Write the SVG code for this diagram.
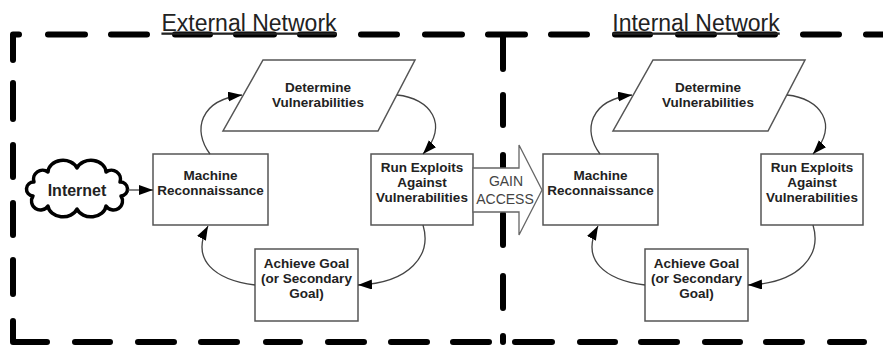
<svg xmlns="http://www.w3.org/2000/svg" width="883" height="345" viewBox="0 0 883 345">
  <style>
    .border { fill: none; stroke: #000; stroke-width: 6; stroke-linecap: round; stroke-linejoin: round; }
    .title { font-family: "Liberation Sans", Arial, sans-serif; font-size: 23px; fill: #222; text-decoration: underline; }
    .shape { fill: #fff; stroke: #555; stroke-width: 1.5; }
    .label { font-family: "Liberation Sans", Arial, sans-serif; font-size: 13.5px; font-weight: bold; fill: #222; text-anchor: middle; }
    .link { fill: none; stroke: #444; stroke-width: 1.3; }
    .cloud { fill: #fff; stroke: #000; stroke-width: 3.5; stroke-linejoin: round; }
    .big { fill: #fff; stroke: #666; stroke-width: 1.3; }
    .gain { font-family: "Liberation Sans", Arial, sans-serif; font-size: 14px; fill: #444; text-anchor: middle; }
  </style>
  <defs>
    <marker id="head" markerUnits="userSpaceOnUse" markerWidth="15" markerHeight="11" refX="14" refY="5" orient="auto">
      <path d="M0,0 L14,5 L0,10 Z" fill="#000"/>
    </marker>
  </defs>

  <rect width="883" height="345" fill="#fff"/>

  <!-- dashed network boundaries -->
  <g id="boundaries">
    <path class="border" d="
      M13,60 L13,34.5 L19,34.5
      M48,34.5 L85,34.5 M111,34.5 L147,34.5 M175,34.5 L210,34.5 M236,34.5 L274,34.5
      M300,34.5 L334,34.5 M361,34.5 L397,34.5 M425,34.5 L462,34.5
      M488,34.5 L525,34.5 M503,34.5 L503,69
      M551,34.5 L587,34.5 M615,34.5 L650,34.5 M678,34.5 L714,34.5 M740,34.5 L775,34.5
      M803,34.5 L839,34.5 M866,34.5 L902,34.5
      M13,83 L13,119 M13,145 L13,177 M13,203 L13,235 M13,260 L13,294
      M13,321 L13,342 L47,342
      M75,342 L110,342 M138,342 L174,342 M201,342 L237,342 M266,342 L300,342
      M328,342 L364,342 M391,342 L427,342 M453,342 L489,342
      M515,342 L552,342 M580,342 L615,342 M641,342 L677,342 M705,342 L740,342
      M766,342 L802,342 M830,342 L864,342
      M503,95 L503,125 M503,155 L503,187 M503,214 L503,245 M503,276 L503,308 M503,336 L503,342"/>
    <text class="title" x="249" y="30.5" text-anchor="middle">External Network</text>
    <text class="title" x="696" y="30.5" text-anchor="middle">Internal Network</text>
  </g>

  <!-- external network nodes -->
  <g id="internet">
    <path class="cloud" d="M34,182 A9,9 0 0 1 48,172 A15,12 0 0 1 77,168 A15,12 0 0 1 106,172 A9,9 0 0 1 120,182 A6,6 0 0 1 121,196 A9,9 0 0 1 106,206 A15,12 0 0 1 77,209 A15,12 0 0 1 48,206 A9,9 0 0 1 33,196 A6,6 0 0 1 34,182 Z"/>
    <text class="label" x="77" y="195.5" style="font-size:16px">Internet</text>
  </g>
  <g id="ext-determine">
    <path class="shape" d="M263,60 L415,60 L378,131 L223,131 Z"/>
    <text class="label" x="318" y="92">Determine</text>
    <text class="label" x="318" y="107">Vulnerabilities</text>
  </g>
  <g id="ext-recon">
    <rect class="shape" x="153" y="154" width="115" height="71"/>
    <text class="label" x="210.5" y="180">Machine</text>
    <text class="label" x="210.5" y="195">Reconnaissance</text>
  </g>
  <g id="ext-exploit">
    <rect class="shape" x="371" y="154" width="102" height="71"/>
    <text class="label" x="422" y="172">Run Exploits</text>
    <text class="label" x="422" y="187">Against</text>
    <text class="label" x="422" y="202">Vulnerabilities</text>
  </g>
  <g id="ext-goal">
    <rect class="shape" x="255" y="249" width="103" height="72"/>
    <text class="label" x="306.5" y="268">Achieve Goal</text>
    <text class="label" x="306.5" y="283">(or Secondary</text>
    <text class="label" x="306.5" y="298">Goal)</text>
  </g>

  <!-- internal network nodes -->
  <g id="int-determine" transform="translate(390,0)">
    <path class="shape" d="M263,60 L415,60 L378,131 L223,131 Z"/>
    <text class="label" x="318" y="92">Determine</text>
    <text class="label" x="318" y="107">Vulnerabilities</text>
  </g>
  <g id="int-recon" transform="translate(390,0)">
    <rect class="shape" x="153" y="154" width="115" height="71"/>
    <text class="label" x="210.5" y="180">Machine</text>
    <text class="label" x="210.5" y="195">Reconnaissance</text>
  </g>
  <g id="int-exploit" transform="translate(390,0)">
    <rect class="shape" x="371" y="154" width="102" height="71"/>
    <text class="label" x="422" y="172">Run Exploits</text>
    <text class="label" x="422" y="187">Against</text>
    <text class="label" x="422" y="202">Vulnerabilities</text>
  </g>
  <g id="int-goal" transform="translate(390,0)">
    <rect class="shape" x="255" y="249" width="103" height="72"/>
    <text class="label" x="306.5" y="268">Achieve Goal</text>
    <text class="label" x="306.5" y="283">(or Secondary</text>
    <text class="label" x="306.5" y="298">Goal)</text>
  </g>

  <!-- block arrow crossing the boundary -->
  <g id="gain-access">
    <path class="big" d="M473,168 L519,168 L519,145 L542,190 L519,235 L519,212 L473,212 Z"/>
    <text class="gain" x="506" y="186">GAIN</text>
    <text class="gain" x="505" y="204">ACCESS</text>
  </g>

  <!-- connectors -->
  <g id="connectors">
    <path class="link" d="M128,190 L153,190" marker-end="url(#head)"/>
    <path class="link" d="M210,154 C192,130 200,100 242,95" marker-end="url(#head)"/>
    <path class="link" d="M397,95 C430,98 450,125 423,154" marker-end="url(#head)"/>
    <path class="link" d="M423,225 C432,255 410,283 358,285" marker-end="url(#head)"/>
    <path class="link" d="M255,285 C215,280 190,260 208,226" marker-end="url(#head)"/>
    <path class="link" d="M600,154 C582,130 590,100 632,95" marker-end="url(#head)"/>
    <path class="link" d="M787,95 C820,98 840,125 813,154" marker-end="url(#head)"/>
    <path class="link" d="M813,225 C822,255 800,283 748,285" marker-end="url(#head)"/>
    <path class="link" d="M645,285 C605,280 580,260 598,226" marker-end="url(#head)"/>
  </g>
</svg>
